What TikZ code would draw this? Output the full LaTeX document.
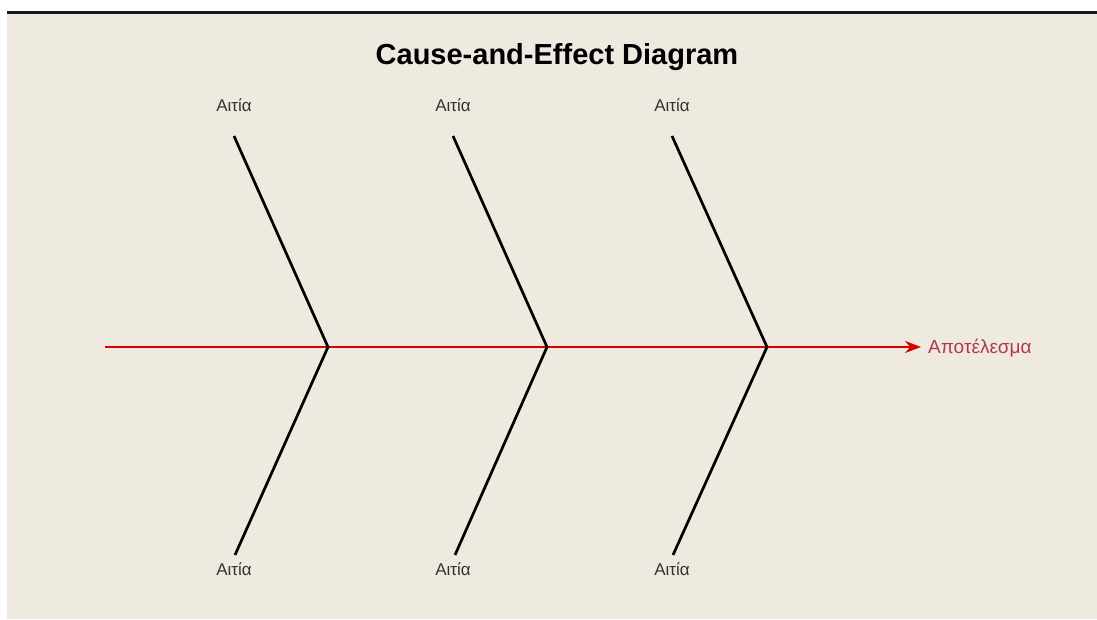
\documentclass[tikz,border=0pt]{standalone}
\usepackage{fontspec}
\setmainfont{Liberation Sans}
\usetikzlibrary{arrows.meta}
\definecolor{bg}{HTML}{EEEAE0}
\definecolor{effred}{HTML}{B23A48}
\begin{document}
\begin{tikzpicture}[x=1pt,y=-1pt,
  bone/.style={line width=2.7pt,black},
  cause/.style={font=\fontsize{17}{19}\selectfont,text=black!80,inner sep=0pt,anchor=center},
  spine/.style={line width=1.8pt,red!85!black,-{Stealth[length=16pt,width=12pt]}}]
\useasboundingbox (0,0) rectangle (1097,619);
\fill[white] (0,0) rectangle (1097,619);
\fill[bg] (7,12) rectangle (1097,619);
\draw[line width=3pt,black!90] (7,12) -- (1097,12);
\node[font=\fontsize{29}{33}\selectfont\bfseries,inner sep=0pt] (title) at (557,57) {Cause-and-Effect Diagram};
% spine
\coordinate (tail) at (105,347);
\coordinate (head) at (921,347);
\node[anchor=west,inner sep=0pt,font=\fontsize{19}{21}\selectfont,text=effred] (effect) at (928,348) {Αποτέλεσμα};
\draw[spine] (tail) -- (head);
% joints
\coordinate (j1) at (328,347);
\coordinate (j2) at (547,347);
\coordinate (j3) at (767,347);
\coordinate (t1) at (234,136);
\coordinate (t2) at (453,136);
\coordinate (t3) at (672,136);
\coordinate (b1) at (235,555);
\coordinate (b2) at (455,555);
\coordinate (b3) at (673,555);
\draw[bone] (t1) -- (j1) -- (b1);
\draw[bone] (t2) -- (j2) -- (b2);
\draw[bone] (t3) -- (j3) -- (b3);
\node[cause] (c1) at (234,105) {Αιτία};
\node[cause] (c2) at (453,105) {Αιτία};
\node[cause] (c3) at (672,105) {Αιτία};
\node[cause] (c4) at (234,569) {Αιτία};
\node[cause] (c5) at (453,569) {Αιτία};
\node[cause] (c6) at (672,569) {Αιτία};
\end{tikzpicture}
\end{document}
